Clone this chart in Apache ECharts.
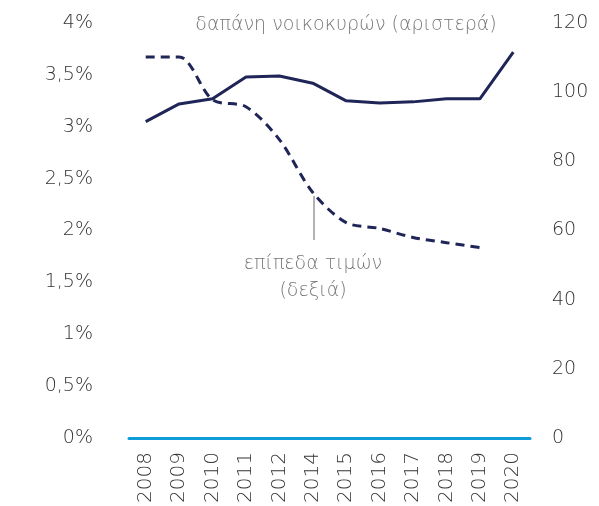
<!DOCTYPE html>
<html>
<head>
<meta charset="utf-8">
<script src="https://cdn.jsdelivr.net/npm/echarts@6/dist/echarts.min.js"></script>
<style>
  html, body { margin: 0; padding: 0; background: #fff; }
  #chart { width: 599px; height: 506px; }
</style>
</head>
<body>
<div id="chart"></div>
<script>
// έτη (το 2013 λείπει στο πρωτότυπο)
const years = ['2008', '2009', '2010', '2011', '2012', '2014', '2015', '2016', '2017', '2018', '2019', '2020'];
// δαπάνη νοικοκυρών, % (αριστερός άξονας)
const spending = [3.05, 3.22, 3.27, 3.48, 3.49, 3.42, 3.25, 3.23, 3.24, 3.27, 3.27, 3.72];
// επίπεδα τιμών (δεξιός άξονας)
const prices = [110.2, 110.2, 97.8, 95.8, 86.3, 71.0, 62.3, 60.6, 58.0, 56.5, 55.1, null];

const navy = '#1f2557';
const font = 'DejaVu Sans';
const weight = 200;

const chart = echarts.init(document.getElementById('chart'), null, { renderer: 'canvas' });

const option = {
  animation: false,
  grid: { left: 129, right: 69, top: 23, bottom: 67 },
  xAxis: {
    type: 'category',
    data: years,
    axisTick: { show: false },
    axisLine: { lineStyle: { color: '#0f9ad8', width: 3, type: 'solid' } },
    axisLabel: {
      rotate: 90,
      margin: 14,
      color: '#333',
      fontSize: 20,
      fontFamily: font,
      fontWeight: weight
    }
  },
  yAxis: [{
    type: 'value',
    min: 0,
    max: 4,
    interval: 0.5,
    splitLine: { show: false },
    axisLine: { show: false },
    axisTick: { show: false },
    axisLabel: {
      margin: 36,
      color: '#333',
      fontSize: 19,
      fontFamily: font,
      fontWeight: weight,
      formatter: v => String(v).replace('.', ',') + '%'
    }
  }, {
    type: 'value',
    min: 0,
    max: 120,
    interval: 20,
    splitLine: { show: false },
    axisLine: { show: false },
    axisTick: { show: false },
    axisLabel: {
      margin: 22,
      color: '#333',
      fontSize: 19,
      fontFamily: font,
      fontWeight: weight
    }
  }],
  series: [{
    name: 'δαπάνη νοικοκυρών',
    type: 'line',
    yAxisIndex: 0,
    data: spending,
    symbol: 'none',
    lineStyle: { color: navy, width: 3, type: 'solid' }
  }, {
    name: 'επίπεδα τιμών',
    type: 'line',
    yAxisIndex: 1,
    data: prices,
    symbol: 'none',
    smooth: 0.3,
    lineStyle: { color: navy, width: 3, type: [9, 6] }
  }],
  graphic: [{
    type: 'text',
    x: 346,
    y: 25,
    style: { text: 'δαπάνη νοικοκυρών (αριστερά)', fill: '#777', fontSize: 19, fontFamily: font, fontWeight: weight, align: 'center', verticalAlign: 'middle' }
  }, {
    type: 'text',
    x: 313,
    y: 264,
    style: { text: 'επίπεδα τιμών', fill: '#777', fontSize: 19, fontFamily: font, fontWeight: weight, align: 'center', verticalAlign: 'middle' }
  }, {
    type: 'text',
    x: 313,
    y: 291,
    style: { text: '(δεξιά)', fill: '#777', fontSize: 19, fontFamily: font, fontWeight: weight, align: 'center', verticalAlign: 'middle' }
  }, {
    type: 'line',
    shape: { x1: 314, y1: 240, x2: 314, y2: 196 },
    style: { stroke: '#999', lineWidth: 1.5 }
  }]
};

chart.setOption(option);
</script>
</body>
</html>
